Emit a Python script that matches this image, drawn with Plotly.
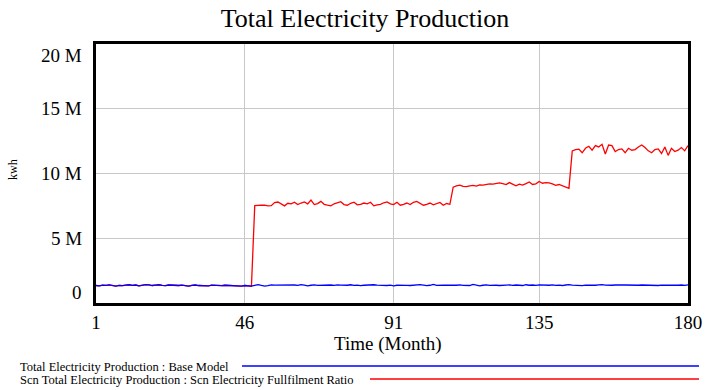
import plotly.graph_objects as go

# Months 1..180
months = list(range(1, 181))

# Total Electricity Production : Base Model (million kwh)
base_model = [
    1.35, 1.33, 1.38, 1.36, 1.40, 1.37, 1.30, 1.36, 1.34, 1.38,
    1.41, 1.36, 1.39, 1.33, 1.37, 1.42, 1.40, 1.35, 1.38, 1.41,
    1.36, 1.34, 1.39, 1.37, 1.33, 1.35, 1.38, 1.36, 1.31, 1.36,
    1.39, 1.35, 1.34, 1.37, 1.33, 1.38, 1.36, 1.32, 1.34, 1.37,
    1.35, 1.33, 1.36, 1.34, 1.31, 1.35, 1.32, 1.30, 1.37, 1.42,
    1.36, 1.31, 1.34, 1.40, 1.38, 1.39, 1.40, 1.37, 1.38, 1.41,
    1.39, 1.36, 1.42, 1.38, 1.32, 1.37, 1.40, 1.36, 1.38, 1.35,
    1.37, 1.39, 1.36, 1.40, 1.38, 1.35, 1.37, 1.41, 1.36, 1.38,
    1.34, 1.37, 1.39, 1.36, 1.41, 1.38, 1.36, 1.39, 1.35, 1.38,
    1.33, 1.37, 1.38, 1.39, 1.36, 1.35, 1.37, 1.40, 1.42, 1.38,
    1.34, 1.37, 1.43, 1.36, 1.39, 1.38, 1.37, 1.35, 1.38, 1.37,
    1.40, 1.36, 1.38, 1.35, 1.43, 1.38, 1.32, 1.37, 1.40, 1.36,
    1.38, 1.37, 1.35, 1.39, 1.38, 1.40, 1.36, 1.39, 1.37, 1.35,
    1.41, 1.37, 1.39, 1.36, 1.40, 1.38, 1.35, 1.37, 1.40, 1.36,
    1.38, 1.35, 1.39, 1.42, 1.38, 1.36, 1.37, 1.34, 1.38, 1.36,
    1.39, 1.37, 1.40, 1.42, 1.38, 1.35, 1.37, 1.39, 1.41, 1.40,
    1.39, 1.38, 1.36, 1.33, 1.37, 1.39, 1.38, 1.36, 1.40, 1.38,
    1.35, 1.38, 1.37, 1.40, 1.36, 1.38, 1.37, 1.39, 1.36, 1.40,
]

# Scn Total Electricity Production : Scn Electricity Fullfilment Ratio (million kwh)
scenario = base_model[:48] + [
    7.52, 7.55,
    7.56, 7.55, 7.50, 7.52, 7.75, 7.80, 7.62, 7.50, 7.70, 7.65,
    7.78, 7.60, 7.72, 7.80, 7.65, 7.95, 7.60, 7.68, 7.85, 7.62,
    7.55, 7.50, 7.66, 7.72, 7.82, 7.60, 7.55, 7.70, 7.78, 7.58,
    7.62, 7.72, 7.65, 7.78, 7.50, 7.58, 7.62, 7.74, 7.80, 7.65,
    7.60, 7.78, 7.55, 7.62, 7.72, 7.60, 7.78, 7.85, 7.68, 7.55,
    7.62, 7.72, 7.58, 7.70, 7.76, 7.55, 7.68, 7.62,
    8.95, 9.05,
    9.10, 9.00, 8.98, 9.05, 9.08, 9.02, 9.12, 9.10, 9.15, 9.20,
    9.18, 9.25, 9.28, 9.22, 9.15, 9.30, 9.20, 9.05, 9.18, 9.10,
    9.22, 9.35, 9.15, 9.20, 9.38, 9.25, 9.30, 9.28, 9.20, 9.08,
    9.15, 9.05, 8.92, 8.86,
    11.75, 11.85, 11.88, 11.60, 11.95, 12.10,
    11.80, 12.15, 12.05, 12.25, 11.50, 12.20, 12.15, 11.70, 11.85, 11.90,
    11.60, 11.95, 11.80, 11.85, 12.05, 12.20, 12.00, 11.75, 11.60, 11.85,
    11.90, 11.55, 12.05, 11.40, 11.95, 11.70, 11.80, 12.00, 11.75, 12.15,
]

x_ticks = [1, 46, 91, 135, 180]
y_ticks = [0, 5e6, 10e6, 15e6, 20e6]
y_tick_labels = ["0", "5 M", "10 M", "15 M", "20 M"]

series_names = [
    "Total Electricity Production : Base Model",
    "Scn Total Electricity Production : Scn Electricity Fullfilment Ratio",
]
series_colors = ["#0000ff", "#ff0000"]

FONT = "Liberation Serif, Times New Roman, serif"

# plot-area geometry in pixels
L, R, T, B = 96, 688, 44, 303
PW, PH = R - L, B - T


def px_x(x):
    return (x - L) / PW


def px_y(y):
    return (B - y) / PH


fig = go.Figure()
fig.add_trace(go.Scatter(
    x=months, y=[v * 1e6 for v in scenario], mode="lines",
    line=dict(color=series_colors[1], width=1.3), name=series_names[1],
))
fig.add_trace(go.Scatter(
    x=months, y=[v * 1e6 for v in base_model], mode="lines",
    line=dict(color=series_colors[0], width=1.3), name=series_names[0],
))

# y tick labels: end labels sit just inside the frame
annotations = []
for val, lab in zip(y_ticks, y_tick_labels):
    shift = 0
    if val == y_ticks[0]:
        shift = 11
    elif val == y_ticks[-1]:
        shift = -11
    annotations.append(dict(
        x=0, xref="paper", y=val, yref="y", text=lab, showarrow=False,
        xanchor="right", yanchor="middle", xshift=-12, yshift=shift,
        font=dict(family=FONT, size=19, color="black"),
    ))

annotations.append(dict(
    x=px_x(13), xref="paper", y=px_y(170), yref="paper", text="kwh",
    showarrow=False, textangle=-90, xanchor="center", yanchor="middle",
    font=dict(family=FONT, size=12, color="black"),
))
annotations.append(dict(
    x=px_x(388), xref="paper", y=px_y(344), yref="paper", text="Time (Month)",
    showarrow=False, xanchor="center", yanchor="middle",
    font=dict(family=FONT, size=19, color="black"),
))

# legend rows: label text followed by a line sample
legend_rows = [(367, 242), (380, 370)]
shapes = []
for (ypix, xstart), name, color in zip(legend_rows, series_names, series_colors):
    annotations.append(dict(
        x=px_x(18), xref="paper", y=px_y(ypix), yref="paper", text=name,
        showarrow=False, xanchor="left", yanchor="middle",
        font=dict(family=FONT, size=12.5, color="black"),
    ))
    shapes.append(dict(
        type="line", xref="paper", yref="paper",
        x0=px_x(xstart), x1=px_x(699), y0=px_y(ypix - 1), y1=px_y(ypix - 1),
        line=dict(color=color, width=1.5),
    ))

fig.update_layout(
    width=705, height=390,
    margin=dict(l=L, r=705 - R, t=T, b=390 - B, autoexpand=False),
    paper_bgcolor="white", plot_bgcolor="white",
    showlegend=False,
    title=dict(
        text="Total Electricity Production",
        x=px_x(365), xref="paper", xanchor="center",
        y=1 - 18 / 390, yref="container", yanchor="middle",
        font=dict(family=FONT, size=26, color="black"),
    ),
    annotations=annotations,
    shapes=shapes,
)
fig.update_xaxes(
    range=[1, 180], tickvals=x_ticks, ticktext=[str(t) for t in x_ticks],
    showgrid=True, gridcolor="#c8c8c8", gridwidth=1,
    showline=True, linecolor="black", linewidth=2.5, mirror=True,
    ticks="", ticklabelstandoff=0,
    tickfont=dict(family=FONT, size=19, color="black"),
    zeroline=False, automargin=False,
)
fig.update_yaxes(
    range=[0, 20e6], tickvals=y_ticks, showticklabels=False,
    showgrid=True, gridcolor="#c8c8c8", gridwidth=1,
    showline=True, linecolor="black", linewidth=2.5, mirror=True,
    zeroline=False, automargin=False,
)

fig.write_html("out.html")
